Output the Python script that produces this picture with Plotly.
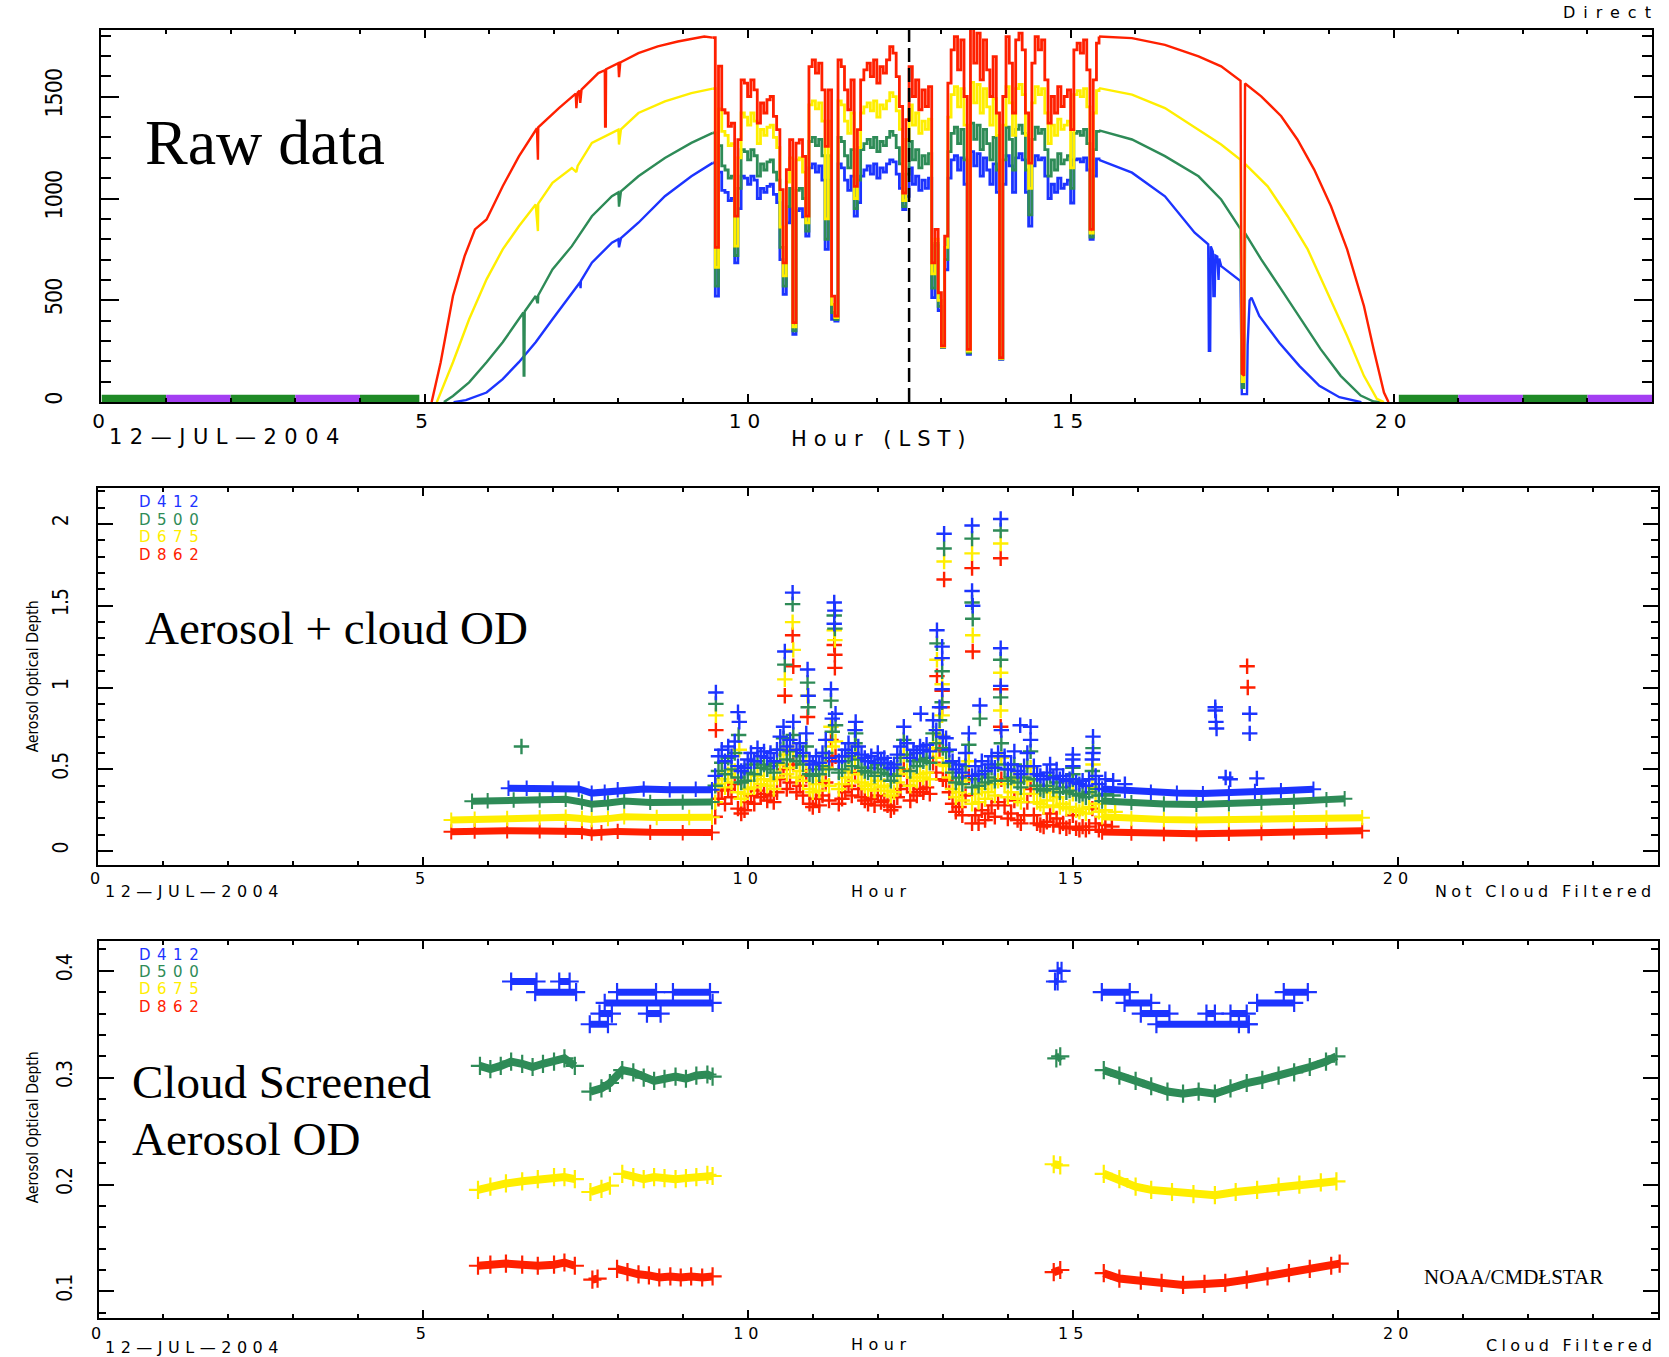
import plotly.graph_objects as go

W, H = 1669, 1357


def fx(p):
    """pixel column -> paper x"""
    return p / W


def fy(p):
    """pixel row -> paper y"""
    return 1 - p / H


C_BLUE = "#1c34ff"
C_GREEN = "#2e8b57"
C_YELLOW = "#ffee00"
C_RED = "#ff2000"
C_NIGHT_GREEN = "#1f8a26"
C_NIGHT_PURPLE = "#a43ef2"

IDL_FONT = "DejaVu Sans"
NARROW_FONT = "Liberation Sans Narrow, DejaVu Sans Condensed, Arial Narrow, sans-serif"
SERIF_FONT = "Liberation Serif, Times New Roman, serif"

# ---------------------------------------------------------------
# Panel 1 - raw direct-beam signal, 12 July 2004
# ---------------------------------------------------------------
raw_red_am_h = [5.11, 5.25, 5.44, 5.62, 5.78, 5.96, 6.21, 6.46, 6.74, 6.745, 6.755, 6.76, 7.08, 7.34, 7.35,
                7.37, 7.40, 7.41, 7.43, 7.69, 7.79, 7.795, 7.805, 7.81, 8.00, 8.01, 8.03, 8.31, 8.61, 8.92,
                9.33, 9.46]
raw_red_am_v = [0, 196, 521, 717, 848, 897, 1060, 1207, 1345, 1191, 1191, 1350, 1444, 1515, 1444,
                1520, 1530, 1470, 1535, 1616, 1630, 1354, 1354, 1635, 1665, 1596, 1668, 1714, 1747, 1771,
                1796, 1790]
raw_yellow_am_h = [5.19, 5.44, 5.69, 5.96, 6.21, 6.46, 6.72, 6.745, 6.755, 6.76, 6.98, 7.28, 7.35, 7.37,
                   7.59, 8.00, 8.01, 8.04, 8.31, 8.72, 9.13, 9.46]
raw_yellow_am_v = [0, 196, 407, 603, 750, 864, 971, 840, 840, 975, 1077, 1150, 1130, 1160,
                   1273, 1338, 1265, 1340, 1420, 1477, 1518, 1540]
raw_green_am_h = [5.30, 5.44, 5.69, 5.96, 6.21, 6.46, 6.53, 6.535, 6.545, 6.55, 6.72, 6.745, 6.755, 6.76,
                  6.98, 7.28, 7.59, 7.90, 8.00, 8.01, 8.04, 8.31, 8.72, 9.13, 9.46]
raw_green_am_v = [0, 30, 97, 196, 294, 407, 440, 130, 130, 445, 521, 490, 490, 525,
                  652, 766, 913, 1011, 1030, 960, 1035, 1109, 1199, 1273, 1322]
raw_blue_am_h = [5.45, 5.64, 5.96, 6.21, 6.46, 6.72, 6.98, 7.28, 7.41, 7.415, 7.42, 7.59, 7.90, 8.00,
                 8.01, 8.04, 8.31, 8.72, 9.13, 9.46]
raw_blue_am_v = [0, 10, 47, 113, 196, 294, 407, 537, 590, 560, 595, 685, 783, 800,
                 760, 805, 881, 1011, 1109, 1175]

raw_red_pm_h = [15.44, 15.95, 16.46, 16.98, 17.33, 17.63, 17.65, 17.685, 17.70, 17.95, 18.26, 18.51,
                18.77, 19.03, 19.28, 19.54, 19.69, 19.85, 19.92]
raw_red_pm_v = [1796, 1788, 1755, 1698, 1649, 1578, 140, 130, 1565, 1502, 1404, 1290,
                1142, 962, 750, 472, 260, 47, 0]
raw_yellow_pm_h = [15.44, 15.95, 16.46, 16.98, 17.33, 17.63, 17.65, 17.685, 17.70, 18.05, 18.36, 18.67,
                   18.98, 19.28, 19.54, 19.74, 19.85]
raw_yellow_pm_v = [1542, 1510, 1444, 1338, 1265, 1190, 100, 100, 1170, 1060, 913, 750,
                   537, 325, 129, 16, 0]
raw_green_pm_h = [15.44, 15.95, 16.46, 16.98, 17.33, 17.63, 17.65, 17.685, 17.70, 17.95, 18.26, 18.56,
                  18.87, 19.18, 19.49, 19.69, 19.80]
raw_green_pm_v = [1335, 1290, 1208, 1109, 995, 850, 70, 70, 830, 701, 554, 407,
                  260, 129, 32, 3, 0]
raw_blue_pm_h = [15.44, 15.95, 16.46, 16.92, 17.13, 17.14, 17.16, 17.17, 17.20, 17.21, 17.23, 17.24,
                 17.27, 17.28, 17.29, 17.30, 17.33, 17.63, 17.65, 17.73, 17.74, 17.77, 17.80, 17.92,
                 18.23, 18.54, 18.85, 19.16, 19.50]
raw_blue_pm_v = [1190, 1127, 1011, 832, 775, 252, 252, 765, 740, 521, 521, 720,
                 715, 600, 600, 705, 668, 595, 39, 39, 280, 500, 513, 423,
                 292, 178, 80, 24, 0]

# cloudy midday, sampled every 3 minutes from 09:30 to 15:24
cloud_hours = [round(9.50 + 0.05 * i, 2) for i in range(119)]
raw_red_cloud = [760, 1650, 1436, 1420, 1354, 1370, 913, 1289, 1583, 1567,
                 1501, 1583, 1534, 1370, 1469, 1420, 1485, 1501, 1403, 1338,
                 1044, 684, 1142, 1289, 390, 1272, 1289, 1207, 913, 1648,
                 1681, 1616, 1665, 1534, 1256, 1534, 521, 423, 1681, 1648,
                 1534, 1436, 1583, 1060, 1338, 1583, 1632, 1665, 1599, 1681,
                 1567, 1648, 1616, 1681, 1746, 1714, 1599, 1452, 1027, 1387,
                 1648, 1501, 1583, 1436, 1534, 1452, 1550, 684, 848, 537,
                 276, 815, 1567, 1730, 1795, 1632, 1779, 1501, 259, 1840,
                 1665, 1812, 1583, 1779, 1632, 1501, 1697, 1420, 218, 1501,
                 1795, 1665, 1420, 1779, 1812, 1730, 1420, 1174, 1665, 1795,
                 1730, 1779, 1583, 1370, 1501, 1420, 1550, 1452, 1501, 1534,
                 1338, 1730, 1763, 1714, 1779, 1632, 848, 1583, 1763]
raw_yellow_cloud = [662, 1440, 1330, 1310, 1260, 1270, 766, 1200, 1420, 1400,
                    1360, 1420, 1380, 1270, 1340, 1310, 1350, 1360, 1300, 1250,
                    860, 620, 1080, 1200, 370, 1190, 1200, 1130, 880, 1460,
                    1480, 1440, 1470, 1380, 900, 1380, 480, 415, 1480, 1460,
                    1380, 1320, 1420, 1000, 1250, 1420, 1450, 1470, 1430, 1480,
                    1400, 1460, 1440, 1480, 1520, 1500, 1430, 1340, 990, 1290,
                    1460, 1360, 1420, 1320, 1380, 1340, 1390, 630, 800, 500,
                    272, 760, 1400, 1510, 1550, 1450, 1540, 1360, 250, 1570,
                    1470, 1560, 1420, 1540, 1450, 1360, 1490, 1310, 215, 1360,
                    1550, 1470, 1310, 1540, 1560, 1510, 1310, 1050, 1470, 1550,
                    1510, 1540, 1420, 1270, 1360, 1310, 1390, 1340, 1360, 1380,
                    1150, 1510, 1530, 1500, 1540, 1450, 830, 1420, 1530]
raw_green_cloud = [570, 1260, 1160, 1140, 1100, 1110, 720, 1050, 1240, 1230,
                   1190, 1240, 1210, 1110, 1170, 1140, 1180, 1190, 1130, 1090,
                   760, 570, 960, 1050, 350, 1040, 1050, 1000, 840, 1280,
                   1300, 1260, 1290, 1210, 800, 1210, 440, 405, 1300, 1280,
                   1210, 1150, 1240, 950, 1090, 1240, 1270, 1290, 1250, 1300,
                   1230, 1280, 1260, 1300, 1330, 1310, 1250, 1170, 960, 1120,
                   1280, 1190, 1240, 1150, 1210, 1170, 1220, 560, 780, 470,
                   270, 700, 1230, 1320, 1350, 1270, 1340, 1190, 242, 1370,
                   1290, 1360, 1240, 1340, 1270, 1190, 1300, 1140, 212, 1190,
                   1350, 1290, 1140, 1340, 1360, 1320, 1140, 920, 1290, 1350,
                   1320, 1340, 1240, 1110, 1190, 1140, 1220, 1170, 1190, 1210,
                   1050, 1320, 1330, 1310, 1340, 1270, 810, 1240, 1330]
raw_blue_cloud = [521, 1130, 1040, 1030, 990, 1000, 684, 950, 1110, 1100,
                  1070, 1110, 1090, 1000, 1050, 1030, 1060, 1070, 1020, 980,
                  700, 529, 880, 950, 333, 940, 950, 910, 815, 1150,
                  1170, 1130, 1160, 1090, 750, 1090, 406, 398, 1170, 1150,
                  1090, 1040, 1110, 913, 980, 1110, 1140, 1160, 1120, 1170,
                  1100, 1150, 1130, 1170, 1190, 1180, 1120, 1050, 946, 1010,
                  1150, 1070, 1110, 1040, 1090, 1050, 1100, 513, 770, 450,
                  268, 650, 1100, 1190, 1210, 1140, 1200, 1070, 235, 1230,
                  1160, 1220, 1110, 1200, 1140, 1070, 1170, 1030, 210, 1070,
                  1210, 1160, 1030, 1200, 1220, 1190, 1030, 864, 1160, 1210,
                  1190, 1200, 1110, 1000, 1070, 1030, 1100, 1050, 1070, 1090,
                  978, 1190, 1195, 1180, 1200, 1140, 799, 1110, 1195]

# night-time flag bar (hour from, hour to, flag)
night_from = [0, 1, 2, 3, 4, 20.08, 21, 22, 23]
night_to = [1, 2, 3, 4, 4.92, 21, 22, 23, 24]
night_flag = ["a", "b", "a", "b", "a", "a", "b", "a", "b"]
solar_noon = 12.5

# ---------------------------------------------------------------
# Panel 2 - optical depth, not cloud filtered
# ---------------------------------------------------------------
nf_base_blue_h = [6.32, 6.6, 7.0, 7.4, 7.6, 7.8, 8.0, 8.4, 8.8, 9.2, 9.45, None,
                  15.45, 15.8, 16.2, 16.6, 17.0, 17.4, 17.8, 18.2, 18.7]
nf_base_blue_v = [0.385, 0.385, 0.38, 0.38, 0.355, 0.36, 0.375, 0.38, 0.375, 0.378, 0.375, None,
                  0.38, 0.37, 0.36, 0.355, 0.352, 0.355, 0.365, 0.37, 0.378]
nf_base_green_h = [5.76, 6.0, 6.4, 6.8, 7.2, 7.45, 7.6, 7.85, 8.1, 8.5, 9.0, 9.45, None,
                   15.45, 15.9, 16.4, 16.9, 17.4, 17.9, 18.4, 18.9, 19.18]
nf_base_green_v = [0.305, 0.308, 0.313, 0.312, 0.317, 0.30, 0.287, 0.295, 0.306, 0.298, 0.30, 0.301, None,
                   0.307, 0.297, 0.288, 0.286, 0.29, 0.298, 0.305, 0.315, 0.32]
nf_base_yellow_h = [5.44, 5.8, 6.3, 6.8, 7.2, 7.45, 7.6, 7.85, 8.1, 8.6, 9.1, 9.45, None,
                    15.45, 15.9, 16.4, 16.9, 17.4, 17.9, 18.4, 18.9, 19.45]
nf_base_yellow_v = [0.19, 0.195, 0.20, 0.205, 0.207, 0.20, 0.193, 0.199, 0.21, 0.206, 0.206, 0.208, None,
                    0.21, 0.199, 0.193, 0.19, 0.193, 0.196, 0.20, 0.203, 0.205]
nf_base_red_h = [5.44, 5.8, 6.3, 6.8, 7.2, 7.45, 7.6, 7.75, 8.0, 8.5, 9.0, 9.45, None,
                 15.45, 15.9, 16.4, 16.9, 17.4, 17.9, 18.4, 18.9, 19.45]
nf_base_red_v = [0.118, 0.123, 0.125, 0.124, 0.127, 0.12, 0.111, 0.113, 0.121, 0.115, 0.113, 0.114, None,
                 0.117, 0.111, 0.107, 0.106, 0.109, 0.113, 0.118, 0.123, 0.125]

nf_cloud_blue = [0.46, 0.58, 0.62, 0.55, 0.64, 0.58, 0.67, 0.52, 0.49, 0.51,
                 0.56, 0.60, 0.55, 0.63, 0.58, 0.61, 0.57, 0.60, 0.55, 0.62,
                 0.70, 0.76, 0.64, 0.68, 0.79, 0.62, 0.66, 0.60, 0.72, 0.55,
                 0.53, 0.58, 0.54, 0.60, 0.68, 0.57, 0.81, 0.84, 0.55, 0.58,
                 0.62, 0.66, 0.60, 0.74, 0.64, 0.59, 0.57, 0.55, 0.58, 0.54,
                 0.60, 0.56, 0.57, 0.54, 0.51, 0.53, 0.59, 0.64, 0.76, 0.66,
                 0.57, 0.62, 0.60, 0.64, 0.62, 0.65, 0.61, 0.80, 0.74, 0.88,
                 0.70, 0.69, 0.62, 0.55, 0.50, 0.53, 0.48, 0.60, 0.72, 0.46,
                 0.52, 0.47, 0.55, 0.49, 0.53, 0.58, 0.51, 0.60, 0.74, 0.58,
                 0.50, 0.53, 0.61, 0.49, 0.47, 0.52, 0.60, 0.68, 0.52, 0.47,
                 0.46, 0.44, 0.48, 0.53, 0.45, 0.50, 0.44, 0.46, 0.43, 0.44,
                 0.52, 0.42, 0.41, 0.43, 0.40, 0.44, 0.56, 0.46, 0.41]
nf_cloud_green = [0.40, 0.49, 0.54, 0.47, 0.57, 0.50, 0.60, 0.45, 0.42, 0.43,
                  0.48, 0.53, 0.47, 0.55, 0.51, 0.53, 0.50, 0.52, 0.48, 0.54,
                  0.62, 0.69, 0.56, 0.61, 0.71, 0.55, 0.58, 0.53, 0.64, 0.47,
                  0.46, 0.50, 0.47, 0.52, 0.60, 0.50, 0.73, 0.77, 0.48, 0.50,
                  0.55, 0.58, 0.52, 0.66, 0.56, 0.51, 0.49, 0.48, 0.51, 0.46,
                  0.53, 0.48, 0.50, 0.47, 0.43, 0.46, 0.51, 0.57, 0.68, 0.59,
                  0.49, 0.55, 0.52, 0.56, 0.55, 0.57, 0.54, 0.72, 0.66, 0.80,
                  0.63, 0.61, 0.54, 0.48, 0.42, 0.45, 0.41, 0.52, 0.65, 0.39,
                  0.44, 0.40, 0.47, 0.42, 0.45, 0.51, 0.43, 0.53, 0.66, 0.50,
                  0.43, 0.45, 0.53, 0.42, 0.39, 0.45, 0.52, 0.61, 0.44, 0.40,
                  0.38, 0.37, 0.40, 0.46, 0.38, 0.42, 0.36, 0.39, 0.36, 0.37,
                  0.44, 0.35, 0.34, 0.35, 0.33, 0.36, 0.49, 0.38, 0.34]
nf_cloud_yellow = [0.30, 0.41, 0.44, 0.39, 0.47, 0.42, 0.49, 0.36, 0.32, 0.35,
                   0.38, 0.43, 0.39, 0.46, 0.41, 0.44, 0.40, 0.43, 0.38, 0.45,
                   0.53, 0.59, 0.47, 0.51, 0.62, 0.45, 0.49, 0.43, 0.55, 0.38,
                   0.36, 0.41, 0.37, 0.43, 0.51, 0.40, 0.64, 0.67, 0.38, 0.41,
                   0.45, 0.49, 0.43, 0.57, 0.47, 0.42, 0.40, 0.38, 0.41, 0.37,
                   0.43, 0.39, 0.40, 0.37, 0.34, 0.36, 0.42, 0.47, 0.59, 0.49,
                   0.40, 0.45, 0.43, 0.47, 0.45, 0.48, 0.44, 0.63, 0.57, 0.71,
                   0.53, 0.52, 0.45, 0.38, 0.33, 0.36, 0.31, 0.43, 0.55, 0.29,
                   0.35, 0.30, 0.38, 0.32, 0.36, 0.41, 0.34, 0.43, 0.57, 0.41,
                   0.33, 0.36, 0.44, 0.32, 0.30, 0.35, 0.43, 0.51, 0.35, 0.30,
                   0.29, 0.27, 0.31, 0.36, 0.28, 0.33, 0.27, 0.29, 0.26, 0.27,
                   0.35, 0.25, 0.24, 0.26, 0.23, 0.27, 0.39, 0.29, 0.24]
nf_cloud_red = [0.21, 0.32, 0.37, 0.29, 0.38, 0.33, 0.41, 0.26, 0.23, 0.25,
                0.30, 0.34, 0.29, 0.37, 0.33, 0.35, 0.31, 0.34, 0.30, 0.36,
                0.44, 0.50, 0.38, 0.42, 0.53, 0.36, 0.40, 0.34, 0.46, 0.29,
                0.27, 0.32, 0.28, 0.34, 0.42, 0.31, 0.55, 0.58, 0.29, 0.32,
                0.36, 0.40, 0.34, 0.48, 0.38, 0.33, 0.31, 0.29, 0.32, 0.28,
                0.34, 0.30, 0.31, 0.28, 0.25, 0.27, 0.33, 0.38, 0.50, 0.40,
                0.31, 0.36, 0.34, 0.38, 0.36, 0.39, 0.35, 0.54, 0.48, 0.62,
                0.44, 0.43, 0.36, 0.29, 0.24, 0.27, 0.22, 0.34, 0.46, 0.17,
                0.22, 0.17, 0.25, 0.19, 0.23, 0.28, 0.21, 0.30, 0.44, 0.28,
                0.20, 0.23, 0.31, 0.19, 0.17, 0.22, 0.30, 0.38, 0.22, 0.17,
                0.16, 0.15, 0.18, 0.23, 0.16, 0.20, 0.15, 0.17, 0.14, 0.15,
                0.22, 0.14, 0.13, 0.15, 0.13, 0.15, 0.26, 0.17, 0.13]

nf_spk_blue_h = [9.51, 9.85, 9.87, 10.57, 10.69, 10.92, 10.93, 11.28, 11.33, 11.34, 11.33, 11.66, 12.66,
                 12.91, 12.99, 12.99, 12.99, 13.02, 13.45, 13.45, 13.46, 13.57, 13.89, 13.89, 13.89, 14.19,
                 14.35, 15.00, 15.00, 15.31, 15.31, 15.50, 15.62, 15.80, 17.19, 17.19, 17.20, 17.21, 17.35,
                 17.42, 17.72, 17.72, 17.83]
nf_spk_blue_v = [0.97, 0.85, 0.79, 1.22, 1.58, 1.11, 0.95, 0.99, 1.52, 1.47, 1.39, 0.79, 0.84,
                 1.35, 1.25, 1.18, 0.99, 1.94, 1.99, 1.59, 1.50, 0.89, 2.03, 1.24, 1.01, 0.77,
                 0.76, 0.59, 0.56, 0.70, 0.60, 0.44, 0.43, 0.41, 0.88, 0.86, 0.79, 0.75, 0.45,
                 0.44, 0.84, 0.72, 0.445]
nf_spk_green_h = [6.52, 9.51, 9.86, 10.57, 10.69, 10.92, 10.93, 11.28, 11.33, 11.34, 11.66, 12.91, 12.99,
                  12.99, 13.02, 13.45, 13.45, 13.46, 13.57, 13.89, 13.89, 13.89, 15.00, 15.00, 15.31, 15.50,
                  15.62]
nf_spk_green_v = [0.64, 0.90, 0.71, 1.14, 1.51, 1.03, 0.88, 0.92, 1.44, 1.36, 0.72, 1.27, 1.10,
                  0.91, 1.85, 1.91, 1.52, 1.42, 0.81, 1.96, 1.17, 0.94, 0.51, 0.47, 0.63, 0.35,
                  0.34]
nf_spk_yellow_h = [9.51, 9.87, 10.57, 10.69, 10.70, 10.92, 11.28, 11.33, 11.34, 11.66, 12.91, 12.99, 12.99,
                   13.02, 13.45, 13.46, 13.89, 13.89, 13.89, 15.00, 15.31, 15.50, 15.65]
nf_spk_yellow_v = [0.83, 0.62, 1.05, 1.40, 1.23, 0.95, 0.76, 1.35, 1.29, 0.64, 1.17, 1.02, 0.83,
                   1.77, 1.82, 1.32, 1.88, 1.09, 0.86, 0.42, 0.53, 0.25, 0.24]
nf_spk_red_h = [9.51, 10.57, 10.69, 10.70, 10.92, 11.28, 11.33, 11.34, 11.34, 12.91, 12.99, 12.99, 13.02,
                13.45, 13.46, 13.89, 13.89, 13.89, 15.50, 15.60, 17.68, 17.69]
nf_spk_red_v = [0.74, 0.95, 1.32, 1.13, 0.82, 0.68, 1.26, 1.20, 1.12, 1.07, 0.98, 0.88, 1.66,
                1.73, 1.22, 1.79, 0.99, 0.76, 0.16, 0.15, 1.13, 1.00]

# ---------------------------------------------------------------
# Panel 3 - cloud-screened aerosol optical depth
# ---------------------------------------------------------------
cs_green_h = [5.87, 6.03, 6.19, 6.35, 6.52, 6.68, 6.84, 7.01, 7.17, 7.33, None,
              7.57, 7.74, 7.87, 8.06, 8.23, 8.39, 8.55, 8.71, 8.88, 9.04, 9.20, 9.37, 9.45, None,
              14.74, 14.80, None,
              15.47, 15.71, 15.96, 16.20, 16.45, 16.69, 16.93, 17.18, 17.42, 17.67, 17.91, 18.16,
              18.40, 18.64, 18.89, 19.05]
cs_green_v = [0.311, 0.308, 0.311, 0.315, 0.313, 0.310, 0.313, 0.315, 0.318, 0.311, None,
              0.287, 0.290, 0.295, 0.307, 0.305, 0.300, 0.297, 0.299, 0.301, 0.299, 0.302, 0.303, 0.301, None,
              0.318, 0.320, None,
              0.307, 0.302, 0.297, 0.292, 0.287, 0.285, 0.287, 0.285, 0.290, 0.295, 0.298, 0.302,
              0.305, 0.310, 0.315, 0.320]
cs_yellow_h = [5.84, 6.03, 6.27, 6.52, 6.76, 7.01, 7.17, 7.33, None,
               7.57, 7.74, 7.87, None,
               8.06, 8.23, 8.39, 8.55, 8.71, 8.88, 9.04, 9.20, 9.37, 9.45, None,
               14.70, 14.80, None,
               15.47, 15.71, 15.96, 16.20, 16.52, 16.85, 17.18, 17.50, 17.83, 18.16, 18.48, 18.81, 19.05]
cs_yellow_v = [0.195, 0.198, 0.201, 0.203, 0.205, 0.207, 0.207, 0.205, None,
               0.193, 0.196, 0.199, None,
               0.210, 0.207, 0.205, 0.207, 0.206, 0.205, 0.206, 0.207, 0.209, 0.208, None,
               0.219, 0.218, None,
               0.210, 0.205, 0.198, 0.195, 0.193, 0.191, 0.190, 0.193, 0.195, 0.198, 0.200, 0.202, 0.203]
cs_red_h = [5.84, 6.03, 6.27, 6.52, 6.76, 7.01, 7.17, 7.33, None,
            7.60, 7.68, None,
            7.98, 8.14, 8.31, 8.47, 8.63, 8.80, 8.96, 9.12, 9.29, 9.45, None,
            14.70, 14.80, None,
            15.47, 15.71, 16.04, 16.36, 16.69, 17.02, 17.34, 17.67, 17.99, 18.32, 18.64, 18.97, 19.10]
cs_red_v = [0.124, 0.125, 0.126, 0.125, 0.124, 0.125, 0.127, 0.124, None,
            0.111, 0.112, None,
            0.121, 0.118, 0.116, 0.115, 0.113, 0.114, 0.113, 0.114, 0.113, 0.114, None,
            0.118, 0.120, None,
            0.117, 0.112, 0.110, 0.108, 0.106, 0.107, 0.108, 0.111, 0.114, 0.117, 0.121, 0.124, 0.126]
# D412 is reported to 0.01, so it is kept as runs at a constant level
cs_blue_level = [0.39, 0.38, 0.39, 0.35, 0.36, 0.37, 0.38, 0.36, 0.38, 0.39,
                 0.40, 0.38, 0.37, 0.36, 0.35, 0.36, 0.36, 0.35, 0.37, 0.38]
cs_blue_from = [6.35, 6.72, 7.09, 7.56, 7.71, 7.79, 7.98, 8.44, 8.84, 14.72,
                14.76, 15.44, 15.79, 16.04, 16.28, 17.05, 17.42, 17.55, 17.83, 18.24]
cs_blue_to = [6.74, 7.35, 7.25, 7.84, 7.90, 9.45, 8.58, 8.65, 9.41, 14.76,
              14.82, 15.87, 16.20, 16.48, 17.70, 17.18, 17.67, 17.70, 18.40, 18.61]

hour_ticks = [0, 5, 10, 15, 20]
channel_names = ["D412", "D500", "D675", "D862"]

# ---------------------------------------------------------------
fig = go.Figure()


def spaced(text, px):
    return f'<span style="letter-spacing:{px}px">{text}</span>'


AX = {1: ("x", "y"), 2: ("x2", "y2"), 3: ("x3", "y3")}


def add(trace, panel):
    trace.update(xaxis=AX[panel][0], yaxis=AX[panel][1], showlegend=False, hoverinfo="skip")
    fig.add_trace(trace)


# --- panel 1 lines: blue first, red on top
raw_series = [
    (C_BLUE, raw_blue_am_h, raw_blue_am_v, raw_blue_cloud, raw_blue_pm_h, raw_blue_pm_v),
    (C_GREEN, raw_green_am_h, raw_green_am_v, raw_green_cloud, raw_green_pm_h, raw_green_pm_v),
    (C_YELLOW, raw_yellow_am_h, raw_yellow_am_v, raw_yellow_cloud, raw_yellow_pm_h, raw_yellow_pm_v),
    (C_RED, raw_red_am_h, raw_red_am_v, raw_red_cloud, raw_red_pm_h, raw_red_pm_v),
]
for col, am_h, am_v, cloud_v, pm_h, pm_v in raw_series:
    add(go.Scatter(x=am_h + [None] + pm_h, y=am_v + [None] + pm_v, mode="lines",
                   line=dict(color=col, width=2.4)), 1)
    add(go.Scatter(x=[am_h[-1]] + cloud_hours + [pm_h[0]], y=[am_v[-1]] + cloud_v + [pm_v[0]],
                   mode="lines", line=dict(color=col, width=2.8, shape="hv")), 1)

# --- panel 2 markers: red first, blue on top
CROSS = "cross-thin"
nf_series = [
    (C_RED, nf_base_red_h, nf_base_red_v, nf_cloud_red, nf_spk_red_h, nf_spk_red_v),
    (C_YELLOW, nf_base_yellow_h, nf_base_yellow_v, nf_cloud_yellow, nf_spk_yellow_h, nf_spk_yellow_v),
    (C_GREEN, nf_base_green_h, nf_base_green_v, nf_cloud_green, nf_spk_green_h, nf_spk_green_v),
    (C_BLUE, nf_base_blue_h, nf_base_blue_v, nf_cloud_blue, nf_spk_blue_h, nf_spk_blue_v),
]
for col, bh, bv, cv, sh, sv in nf_series:
    add(go.Scatter(x=bh, y=bv, mode="lines+markers", line=dict(color=col, width=7),
                   marker=dict(symbol=CROSS, size=11, line=dict(color=col, width=2))), 2)
    add(go.Scatter(x=cloud_hours + sh, y=cv + sv, mode="markers",
                   marker=dict(symbol=CROSS, size=11, line=dict(color=col, width=2.4))), 2)

# --- panel 3
for col, h, v in [(C_RED, cs_red_h, cs_red_v), (C_YELLOW, cs_yellow_h, cs_yellow_v),
                  (C_GREEN, cs_green_h, cs_green_v)]:
    add(go.Scatter(x=h, y=v, mode="lines+markers", line=dict(color=col, width=8),
                   marker=dict(symbol=CROSS, size=13, line=dict(color=col, width=2.2))), 3)
bx, by = [], []
for lvl, a, b in zip(cs_blue_level, cs_blue_from, cs_blue_to):
    bx += [a, b, None]
    by += [lvl, lvl, None]
add(go.Scatter(x=bx, y=by, mode="lines+markers", line=dict(color=C_BLUE, width=7),
               marker=dict(symbol=CROSS, size=13, line=dict(color=C_BLUE, width=2.2))), 3)

# --- night flags and solar-noon marker on panel 1
shapes = []
for a, b, flag in zip(night_from, night_to, night_flag):
    shapes.append(dict(type="rect", xref="x", yref="y domain", x0=a, x1=b, y0=0, y1=0.02,
                       fillcolor=C_NIGHT_GREEN if flag == "a" else C_NIGHT_PURPLE,
                       line=dict(width=0), layer="below"))
shapes.append(dict(type="line", xref="x", yref="y domain", x0=solar_noon, x1=solar_noon, y0=0, y1=1,
                   line=dict(color="black", width=2.5, dash="14px,6px"), layer="above"))


def x_axis(domain, anchor, size, sp, standoff):
    return dict(domain=domain, anchor=anchor, range=[0, 24], tickmode="array", tickvals=hour_ticks,
                ticktext=[spaced(str(t), sp) for t in hour_ticks], ticks="inside", ticklen=8, tickwidth=2,
                tickcolor="black",
                minor=dict(tickmode="linear", tick0=0, dtick=1, ticks="inside", ticklen=4, tickwidth=2,
                           tickcolor="black"),
                showline=True, linewidth=2, linecolor="black", mirror="ticks", showgrid=False, zeroline=False,
                tickfont=dict(family=IDL_FONT, size=size, color="black"), ticklabelstandoff=standoff)


def y_axis(domain, anchor, rng, vals, labels, size, major, minor_step, minor_len, standoff):
    return dict(domain=domain, anchor=anchor, range=rng, tickmode="array", tickvals=vals,
                ticktext=[spaced(t, -1) for t in labels], tickangle=-90, ticks="inside", ticklen=major,
                tickwidth=2, tickcolor="black",
                minor=dict(tickmode="linear", tick0=0, dtick=minor_step, ticks="inside", ticklen=minor_len,
                           tickwidth=2, tickcolor="black"),
                showline=True, linewidth=2, linecolor="black", mirror="ticks", showgrid=False, zeroline=False,
                tickfont=dict(family=NARROW_FONT, size=size, color="black"), ticklabelstandoff=standoff)


fig.update_layout(
    width=W, height=H, margin=dict(l=0, r=0, t=0, b=0),
    paper_bgcolor="white", plot_bgcolor="white", showlegend=False,
    xaxis=x_axis([fx(93), fx(1652)], "y", 20, 6, 0),
    yaxis=y_axis([fy(403), fy(30)], "x", [0, 1828], [0, 500, 1000, 1500], ["0", "500", "1000", "1500"],
                 23, 18, 100, 10, 28),
    xaxis2=x_axis([fx(89), fx(1658)], "y2", 16, 5, -2),
    yaxis2=y_axis([fy(867), fy(489)], "x2", [-0.085, 2.22], [0, 0.5, 1, 1.5, 2],
                  ["0", "0.5", "1", "1.5", "2"], 21, 15, 0.1, 7, 19),
    xaxis3=x_axis([fx(90), fx(1658)], "y3", 16, 5, 0),
    yaxis3=y_axis([fy(1321), fy(943)], "x3", [0.075, 0.428], [0.1, 0.2, 0.3, 0.4],
                  ["0.1", "0.2", "0.3", "0.4"], 21, 15, 0.02, 7, 16),
    shapes=shapes,
)


def label(text, x, y, size, family, color="black", xanchor="center", angle=0, sp=None):
    if sp is not None:
        text = spaced(text, sp)
        if xanchor == "center":
            x += sp / 2
        elif xanchor == "right":
            x += sp
    fig.add_annotation(text=text, x=fx(x), y=fy(y), xref="paper", yref="paper", xanchor=xanchor,
                       yanchor="middle", showarrow=False, textangle=angle, borderpad=0,
                       font=dict(family=family, size=size, color=color))


# panel 1 texts
label("Direct", 1652, 13, 16, IDL_FONT, xanchor="right", sp=8)
label("Raw data", 136, 143, 64, SERIF_FONT, xanchor="left")
label("Hour (LST)", 874, 440, 21, IDL_FONT, sp=7)
label("12—JUL—2004", 100, 438, 21, IDL_FONT, xanchor="left", sp=7.5)

# panel 2 texts
label("Aerosol + cloud OD", 136, 629, 47, SERIF_FONT, xanchor="left")
label("Hour", 874, 893, 16, IDL_FONT, sp=5.5)
label("12—JUL—2004", 96, 893, 16, IDL_FONT, xanchor="left", sp=5.5)
label("Not Cloud Filtered", 1653, 893, 16, IDL_FONT, xanchor="right", sp=4.3)
label("Aerosol Optical Depth", 24, 678, 15.5, NARROW_FONT, angle=-90)

# panel 3 texts
label("Cloud Screened", 123, 1084, 47, SERIF_FONT, xanchor="left")
label("Aerosol OD", 123, 1142, 47, SERIF_FONT, xanchor="left")
label("Hour", 874, 1347, 16, IDL_FONT, sp=5.5)
label("12—JUL—2004", 96, 1350, 16, IDL_FONT, xanchor="left", sp=5.5)
label("Cloud Filtered", 1653, 1348, 16, IDL_FONT, xanchor="right", sp=4.3)
label("Aerosol Optical Depth", 24, 1130, 15.5, NARROW_FONT, angle=-90)
label("NOAA/CMDŁSTAR", 1422, 1280, 21, SERIF_FONT, xanchor="left")

# channel keys
key_colors = [C_BLUE, C_GREEN, C_YELLOW, C_RED]
for rows in ([503, 521, 538, 556], [957, 974, 991, 1009]):
    for name, col, y in zip(channel_names, key_colors, rows):
        label(name, 130, y, 15, IDL_FONT, color=col, xanchor="left", sp=6.5)

fig.write_html("out.html")
